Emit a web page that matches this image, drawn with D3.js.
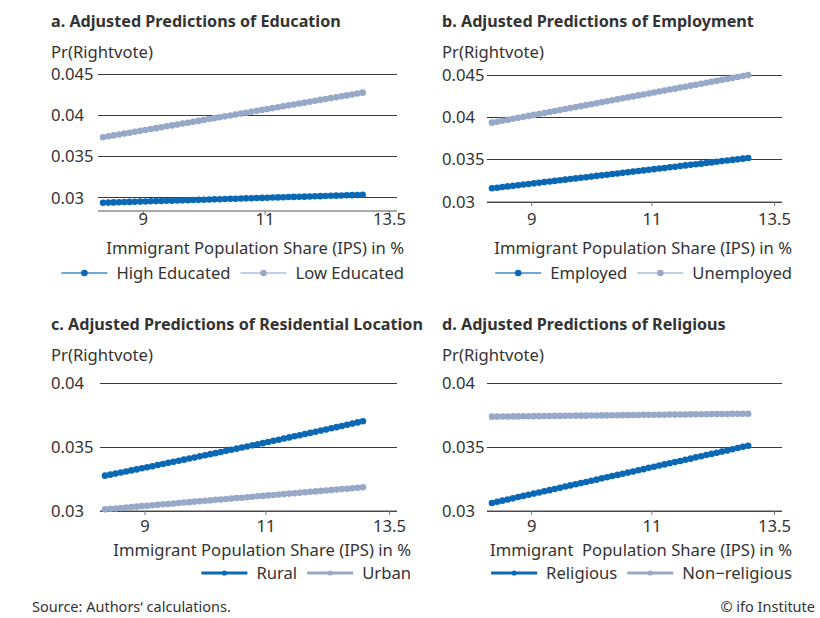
<!DOCTYPE html>
<html><head><meta charset="utf-8">
<script src="https://cdn.jsdelivr.net/npm/d3@7"></script>
<style>
html,body{margin:0;padding:0;background:#fff;}
svg text{font-family:"Noto Sans","Open Sans",sans-serif;fill:#333;}
</style></head>
<body><svg id="chart" width="820" height="618"></svg>
<script>
// ---- data ----
const ipsValues = [8.430,8.504,8.578,8.654,8.730,8.806,8.883,8.961,9.040,9.119,9.199,9.280,9.361,9.443,9.526,9.609,9.694,9.779,9.864,9.951,10.038,10.126,10.215,10.304,10.395,10.486,10.578,10.670,10.764,10.858,10.953,11.049,11.146,11.244,11.342,11.442,11.542,11.643,11.745,11.848,11.952,12.057,12.162,12.269,12.376,12.485,12.594,12.705,12.816,12.928];

const highEducated = [0.02940,0.02942,0.02944,0.02946,0.02948,0.02950,0.02952,0.02954,0.02956,0.02958,0.02960,0.02962,0.02964,0.02965,0.02967,0.02969,0.02971,0.02973,0.02975,0.02977,0.02979,0.02981,0.02983,0.02985,0.02987,0.02989,0.02991,0.02993,0.02995,0.02997,0.02999,0.03001,0.03003,0.03005,0.03007,0.03009,0.03011,0.03012,0.03014,0.03016,0.03018,0.03020,0.03022,0.03024,0.03026,0.03028,0.03030,0.03032,0.03034,0.03036];
const lowEducated = [0.03734,0.03745,0.03756,0.03767,0.03778,0.03789,0.03800,0.03811,0.03822,0.03833,0.03844,0.03855,0.03866,0.03877,0.03888,0.03899,0.03910,0.03921,0.03932,0.03943,0.03954,0.03965,0.03976,0.03987,0.03998,0.04009,0.04020,0.04031,0.04043,0.04054,0.04065,0.04076,0.04087,0.04098,0.04109,0.04120,0.04131,0.04142,0.04153,0.04164,0.04175,0.04186,0.04197,0.04208,0.04219,0.04230,0.04241,0.04252,0.04263,0.04274];
const employed = [0.03162,0.03169,0.03177,0.03184,0.03191,0.03198,0.03206,0.03213,0.03220,0.03228,0.03235,0.03242,0.03249,0.03257,0.03264,0.03271,0.03279,0.03286,0.03293,0.03300,0.03308,0.03315,0.03322,0.03330,0.03337,0.03344,0.03351,0.03359,0.03366,0.03373,0.03381,0.03388,0.03395,0.03402,0.03410,0.03417,0.03424,0.03432,0.03439,0.03446,0.03453,0.03461,0.03468,0.03475,0.03483,0.03490,0.03497,0.03504,0.03512,0.03519];
const unemployed = [0.03937,0.03948,0.03960,0.03971,0.03983,0.03994,0.04006,0.04017,0.04029,0.04040,0.04052,0.04063,0.04075,0.04086,0.04098,0.04109,0.04121,0.04132,0.04144,0.04155,0.04167,0.04178,0.04190,0.04201,0.04213,0.04224,0.04236,0.04247,0.04259,0.04270,0.04282,0.04293,0.04305,0.04316,0.04328,0.04339,0.04351,0.04362,0.04374,0.04385,0.04397,0.04408,0.04420,0.04431,0.04443,0.04454,0.04466,0.04477,0.04489,0.04500];
const rural = [0.03276,0.03284,0.03292,0.03301,0.03309,0.03317,0.03325,0.03334,0.03342,0.03350,0.03359,0.03367,0.03376,0.03384,0.03393,0.03401,0.03410,0.03418,0.03427,0.03435,0.03444,0.03452,0.03461,0.03470,0.03478,0.03487,0.03496,0.03504,0.03513,0.03522,0.03530,0.03539,0.03548,0.03557,0.03566,0.03575,0.03584,0.03592,0.03601,0.03610,0.03619,0.03628,0.03637,0.03646,0.03655,0.03664,0.03674,0.03683,0.03692,0.03701];
const urban = [0.03013,0.03017,0.03020,0.03024,0.03027,0.03031,0.03034,0.03038,0.03041,0.03045,0.03048,0.03052,0.03055,0.03059,0.03062,0.03066,0.03069,0.03073,0.03076,0.03080,0.03083,0.03087,0.03090,0.03094,0.03097,0.03101,0.03104,0.03108,0.03111,0.03115,0.03118,0.03122,0.03125,0.03129,0.03132,0.03136,0.03139,0.03143,0.03146,0.03150,0.03153,0.03157,0.03160,0.03164,0.03167,0.03171,0.03174,0.03178,0.03181,0.03185];
const religious = [0.03063,0.03072,0.03081,0.03090,0.03099,0.03109,0.03118,0.03127,0.03136,0.03145,0.03154,0.03163,0.03172,0.03182,0.03191,0.03200,0.03209,0.03218,0.03227,0.03236,0.03245,0.03255,0.03264,0.03273,0.03282,0.03291,0.03300,0.03309,0.03318,0.03327,0.03337,0.03346,0.03355,0.03364,0.03373,0.03382,0.03391,0.03400,0.03409,0.03419,0.03428,0.03437,0.03446,0.03455,0.03464,0.03473,0.03483,0.03492,0.03501,0.03510];
const nonReligious = [0.03737,0.03737,0.03738,0.03738,0.03739,0.03739,0.03740,0.03740,0.03741,0.03741,0.03742,0.03742,0.03743,0.03743,0.03744,0.03744,0.03745,0.03745,0.03745,0.03746,0.03746,0.03747,0.03747,0.03748,0.03748,0.03749,0.03749,0.03750,0.03750,0.03751,0.03751,0.03752,0.03752,0.03752,0.03753,0.03753,0.03754,0.03754,0.03755,0.03755,0.03756,0.03756,0.03757,0.03757,0.03758,0.03758,0.03759,0.03759,0.03760,0.03760];

const panelTitles = ["a. Adjusted Predictions of Education","b. Adjusted Predictions of Employment","c. Adjusted Predictions of Residential Location","d. Adjusted Predictions of Religious"];
const seriesNames = [["High Educated","Low Educated"],["Employed","Unemployed"],["Rural","Urban"],["Religious","Non\u2212religious"]];
const xTicks = [9, 11, 13.5];
const xTickLabels = ["9","11","13.5"];
const yTicksAB = [0.03, 0.035, 0.04, 0.045];
const yTickLabelsAB = ["0.03","0.035","0.04","0.045"];
const yTicksCD = [0.03, 0.035, 0.04];
const yTickLabelsCD = ["0.03","0.035","0.04"];
const yLabel = "Pr(Rightvote)";
const xLabels = ["Immigrant Population Share (IPS) in %","Immigrant Population Share (IPS) in %","Immigrant Population Share (IPS) in %","Immigrant\u00a0 Population Share (IPS) in %"];
const sourceText = "Source: Authors\u2018 calculations.";
const creditText = "\u00a9  ifo Institute";

const svg = d3.select("#chart");

// font sizes fitted to the reference text widths
function fitSize(str, weight, targetW) {
  const t = svg.append("text").text(str).style("font-size", "20px").style("font-weight", weight);
  const w = t.node().getComputedTextLength();
  t.remove();
  return 20 * targetW / w;
}
const FS_TITLE = fitSize(panelTitles[0], 700, 290);
const FS_BODY = fitSize(xLabels[0], 400, 298);
const FS_FOOT = fitSize(sourceText, 400, 199);

// ---- layout ----
const C1 = "#0a68b4", C2 = "#97a8c9";
const panels = [
  {title:panelTitles[0], names:seriesNames[0], s:[highEducated,lowEducated], yt:yTicksAB, ytl:yTickLabelsAB, yDom:[0.0284,0.045],
   left:51, xr:[98,397], yr:[211,74], titleY:27, ylabY:58, xtY:225, xlabY:254, xlabR:404, legY:273, legR:404, thinLegend:true, xl:xLabels[0]},
  {title:panelTitles[1], names:seriesNames[1], s:[employed,unemployed], yt:yTicksAB, ytl:yTickLabelsAB, yDom:[0.03,0.045],
   left:442, xr:[487,782], yr:[202,75], titleY:27, ylabY:58, xtY:225, xlabY:254, xlabR:792, legY:273, legR:792, thinLegend:true, xl:xLabels[1]},
  {title:panelTitles[2], names:seriesNames[2], s:[rural,urban], yt:yTicksCD, ytl:yTickLabelsCD, yDom:[0.03,0.04],
   left:51, xr:[100,397], yr:[511,383], titleY:330, ylabY:361, xtY:532, xlabY:556, xlabR:411, legY:573, legR:411, thinLegend:false, xl:xLabels[2]},
  {title:panelTitles[3], names:seriesNames[3], s:[religious,nonReligious], yt:yTicksCD, ytl:yTickLabelsCD, yDom:[0.03,0.04],
   left:442, xr:[487,782], yr:[511,383], titleY:330, ylabY:361, xtY:532, xlabY:556, xlabR:792, legY:573, legR:792, thinLegend:false, xl:xLabels[3]}
];

panels.forEach(p => {
  const g = svg.append("g");
  const x = d3.scaleLog().domain([8.36, 13.68]).range(p.xr);
  const y = d3.scaleLinear().domain(p.yDom).range(p.yr);

  g.append("text").attr("x", p.left).attr("y", p.titleY).text(p.title)
    .style("font-weight", "700").style("font-size", FS_TITLE + "px");
  g.append("text").attr("x", p.left).attr("y", p.ylabY).text(yLabel).style("font-size", FS_BODY + "px");

  p.yt.forEach((v, i) => {
    g.append("line").attr("x1", p.xr[0]).attr("x2", p.xr[1]).attr("y1", y(v)).attr("y2", y(v))
      .attr("stroke", "#3a3a3a").attr("stroke-width", 1).attr("shape-rendering","crispEdges");
    g.append("text").attr("x", p.left).attr("y", y(v)).attr("dy", "0.35em").text(p.ytl[i]).style("font-size", FS_BODY + "px");
  });

  const xAxis = d3.axisBottom(x).tickValues(xTicks).tickFormat((d, i) => xTickLabels[i]).tickSize(4).tickPadding(3);
  const ax = g.append("g").attr("transform", `translate(0,${p.yr[0]})`).call(xAxis);
  ax.select(".domain").attr("d", `M${p.xr[0]},0H${p.xr[1]}`).attr("stroke", "#555");
  ax.selectAll(".tick line").attr("stroke", "#777");
  ax.selectAll(".tick text").attr("y", p.xtY - p.yr[0]).attr("dy", 0)
    .style("font-size", FS_BODY + "px").style("font-family", "'Noto Sans','Open Sans',sans-serif").attr("fill", "#333");

  g.append("text").attr("x", p.xlabR).attr("y", p.xlabY).attr("text-anchor", "end").text(p.xl).style("font-size", FS_BODY + "px");

  const cols = [C1, C2];
  [1, 0].forEach(k => {
    const pts = p.s[k].map((v, i) => [ipsValues[i], v]);
    g.append("path").datum(pts)
      .attr("d", d3.line().x(d => x(d[0])).y(d => y(d[1])))
      .attr("fill", "none").attr("stroke", cols[k]).attr("stroke-width", 2);
    g.selectAll(null).data(pts).enter().append("circle")
      .attr("cx", d => x(d[0])).attr("cy", d => y(d[1])).attr("r", 3.3).attr("fill", cols[k]);
  });

  const leg = g.append("g");
  let cx = 0;
  p.names.forEach((n, k) => {
    const it = leg.append("g");
    it.append("line").attr("x1", 0).attr("x2", 46).attr("y1", 0).attr("y2", 0)
      .attr("stroke", p.thinLegend ? (k ? "#b3bfd8" : "#3d8ad0") : cols[k])
      .attr("stroke-width", p.thinLegend ? 1.3 : 3);
    it.append("circle").attr("cx", 23).attr("cy", 0).attr("r", p.thinLegend ? 3.3 : 2.6).attr("fill", cols[k]);
    const t = it.append("text").attr("x", 55).attr("y", 0).attr("dy", "0.35em").text(n).style("font-size", FS_BODY + "px");
    const w = 55 + t.node().getComputedTextLength();
    it.attr("transform", `translate(${cx},0)`);
    cx += w + 10;
  });
  leg.attr("transform", `translate(${p.legR - (cx - 10)},${p.legY})`);
});

svg.append("text").attr("x", 32).attr("y", 612).text(sourceText).style("font-size", FS_FOOT + "px");
svg.append("text").attr("x", 815).attr("y", 612).attr("text-anchor", "end").text(creditText).style("font-size", FS_FOOT + "px");
</script></body></html>
